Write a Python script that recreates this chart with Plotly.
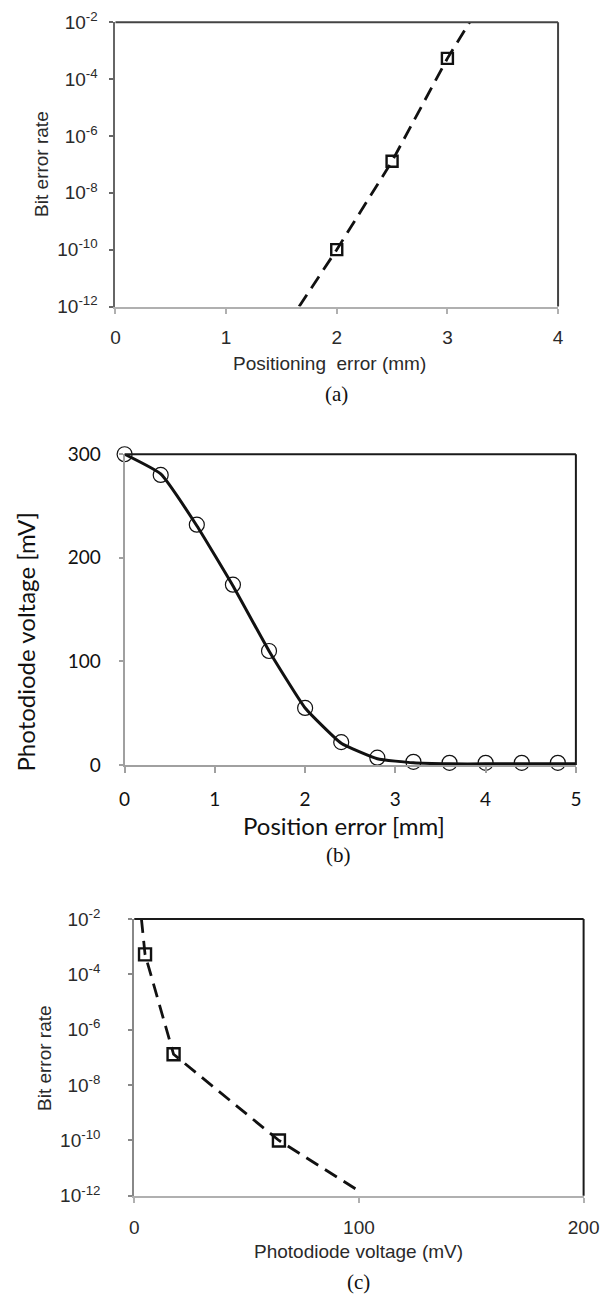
import plotly.graph_objects as go

# ---------------- data ----------------
# (a) Bit error rate vs positioning error
pos_err_a = [2.0, 2.5, 3.0]
ber_a = [1e-10, 1.3e-7, 5.4e-4]
fit_a_x = [1.66, 2.0, 2.5, 3.0, 3.2]
fit_a_y = [1e-12, 1e-10, 1.3e-7, 5.4e-4, 1e-2]

# (b) Photodiode voltage vs position error
pos_err_b = [0.0, 0.4, 0.8, 1.2, 1.6, 2.0, 2.4, 2.8, 3.2, 3.6, 4.0, 4.4, 4.8]
volt_b = [300, 280, 232, 174, 110, 55, 22, 7, 3, 2, 2, 2, 2]
curve_b_x = [0.0, 0.4, 0.8, 1.2, 1.6, 2.0, 2.4, 2.8, 3.2, 3.6, 4.0, 4.4, 4.8, 5.0]
curve_b_y = [300, 281, 231, 173, 110, 55, 21, 6, 2, 1, 1, 1, 1, 1]

# (c) Bit error rate vs photodiode voltage
volt_c = [4.8, 17.5, 64.4]
ber_c = [5.3e-4, 1.3e-7, 1e-10]
curve_c_x = [3.2, 4.8, 17.5, 64.4, 100]
curve_c_y = [1e-2, 5.3e-4, 1.3e-7, 1e-10, 1.5e-12]

log_tickvals = [1e-12, 1e-10, 1e-8, 1e-6, 1e-4, 1e-2]
log_ticktext = ["10<sup>-12</sup>", "10<sup>-10</sup>", "10<sup>-8</sup>",
                "10<sup>-6</sup>", "10<sup>-4</sup>", "10<sup>-2</sup>"]
xticks_a = [0, 1, 2, 3, 4]
xticks_b = [0, 1, 2, 3, 4, 5]
yticks_b = [0, 100, 200, 300]
xticks_c = [0, 100, 200]

# ---------------- layout geometry ----------------
W, H = 616, 1305


def px_x(v):
    return v / W


def px_y(v):
    return 1 - v / H


A = dict(x0=113.5, x1=572.5, y0=9.5, y1=299)
B = dict(x0=123, x1=591, y0=449.5, y1=766)
C = dict(x0=133, x1=599, y0=923, y1=1205)

SANS = "Liberation Sans, Arial, sans-serif"
CAL = "Lato, Carlito, sans-serif"
SERIF = "Liberation Serif, Times New Roman, serif"
TXT = "#2a2a2a"

fig = go.Figure()

dash = "14px,8px"

# (a)
fig.add_trace(go.Scatter(x=fit_a_x, y=fit_a_y, mode="lines",
                         line=dict(color="#111", width=2.8, dash=dash),
                         xaxis="x", yaxis="y", showlegend=False))
fig.add_trace(go.Scatter(x=pos_err_a, y=ber_a, mode="markers",
                         marker=dict(symbol="square-open", size=11, color="#111",
                                     line=dict(width=2.4, color="#111")),
                         cliponaxis=False, xaxis="x", yaxis="y", showlegend=False))
# (b)
fig.add_trace(go.Scatter(x=curve_b_x, y=curve_b_y, mode="lines",
                         line=dict(color="#111", width=3, shape="spline", smoothing=0.4),
                         xaxis="x2", yaxis="y2", showlegend=False))
fig.add_trace(go.Scatter(x=pos_err_b, y=volt_b, mode="markers",
                         marker=dict(symbol="circle-open", size=15, color="#111",
                                     line=dict(width=1.2, color="#111")),
                         cliponaxis=False, xaxis="x2", yaxis="y2", showlegend=False))
# (c)
fig.add_trace(go.Scatter(x=curve_c_x, y=curve_c_y, mode="lines",
                         line=dict(color="#111", width=2.8, dash=dash),
                         xaxis="x3", yaxis="y3", showlegend=False))
fig.add_trace(go.Scatter(x=volt_c, y=ber_c, mode="markers",
                         marker=dict(symbol="square-open", size=12, color="#111",
                                     line=dict(width=2.4, color="#111")),
                         cliponaxis=False, xaxis="x3", yaxis="y3", showlegend=False))


def xax(box, rng, ticks, font, color, anchor, standoff, ticklen=5):
    return dict(domain=[px_x(box["x0"]), px_x(box["x1"])], range=rng,
                tickvals=ticks, ticks="outside", ticklen=ticklen, tickwidth=1.5,
                tickcolor=color, showline=True, linecolor=color, linewidth=2,
                showgrid=False, zeroline=False, anchor=anchor, fixedrange=True,
                tickfont=font, ticklabelstandoff=standoff)


def yax(box, rng, ticks, text, font, color, anchor, standoff, typ="linear", ticklen=4):
    d = dict(domain=[px_y(box["y1"]), px_y(box["y0"])], range=rng, type=typ,
             tickvals=ticks, ticks="outside", ticklen=ticklen, tickwidth=1.5,
             tickcolor=color, showline=True, linecolor=color, linewidth=2,
             showgrid=False, zeroline=False, anchor=anchor, fixedrange=True,
             tickfont=font, ticklabelstandoff=standoff)
    if text is not None:
        d["ticktext"] = text
    return d


fa = dict(family=SANS, size=19, color=TXT)
fb = dict(family=CAL, size=19, color="#111")

fig.update_layout(
    width=W, height=H, margin=dict(l=0, r=0, t=0, b=0),
    paper_bgcolor="white", plot_bgcolor="white",
    xaxis=xax(A, [0, 4], xticks_a, fa, "#b0b0b0", "y", 8),
    yaxis=yax(A, [-12, -2], log_tickvals, log_ticktext, fa, "#666666", "x", 8, typ="log"),
    xaxis2=xax(B, [0, 5], xticks_b, fb, "#a0a0a0", "y2", 10, ticklen=6),
    yaxis2=yax(B, [0, 300], yticks_b, None, fb, "#a0a0a0", "x2", 14),
    xaxis3=xax(C, [0, 200], xticks_c, fa, "#b0b0b0", "y3", 8),
    yaxis3=yax(C, [-12, -2], log_tickvals, log_ticktext, fa, "#888888", "x3", 24, typ="log"),
)

# top/right borders
shapes = []
for box, col in [(A, "#444444"), (B, "#1a1a1a"), (C, "#1a1a1a")]:
    shapes.append(dict(type="line", xref="paper", yref="paper",
                       x0=px_x(box["x0"]), x1=px_x(box["x1"]),
                       y0=px_y(box["y0"]), y1=px_y(box["y0"]),
                       line=dict(color=col, width=2), layer="above"))
    shapes.append(dict(type="line", xref="paper", yref="paper",
                       x0=px_x(box["x1"]), x1=px_x(box["x1"]),
                       y0=px_y(box["y0"]), y1=px_y(box["y1"]),
                       line=dict(color=col, width=2), layer="above"))
fig.update_layout(shapes=shapes)

# titles and captions
ann = []


def label(text, x, y, font, angle=0):
    ann.append(dict(text=text, x=px_x(x), y=px_y(y), xref="paper", yref="paper",
                    showarrow=False, font=font, textangle=angle,
                    xanchor="center", yanchor="middle"))


tfa = dict(family=SANS, size=19, color=TXT)
tfb = dict(family=CAL, size=24, color="#111")
cap = dict(family=SERIF, size=21, color="#111")

label("Positioning\u00a0 error (mm)", 335, 357, tfa)
label("Bit error rate", 36, 154, tfa, -90)
label("(a)", 343, 388, cap)

label("Position error [mm]", 350, 828, tfb)
label("Photodiode voltage [mV]", 20, 641, tfb, -90)
label("(b)", 345, 858, cap)

label("Photodiode voltage (mV)", 366, 1262, tfa)
label("Bit error rate", 40, 1065, tfa, -90)
label("(c)", 366, 1293, cap)

fig.update_layout(annotations=ann)

fig.write_html("out.html")
